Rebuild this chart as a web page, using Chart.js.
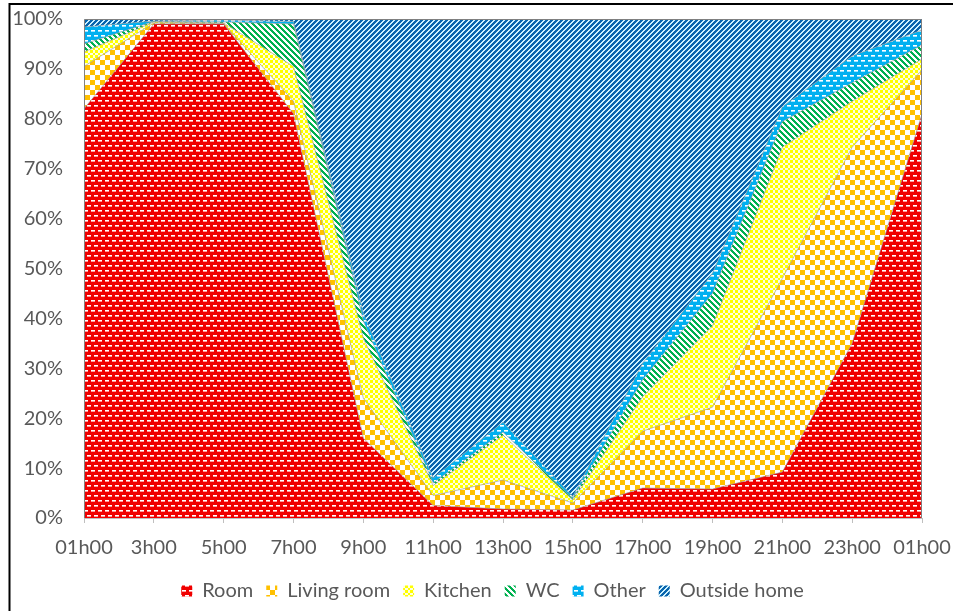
<!DOCTYPE html>
<html>
<head>
<meta charset="utf-8">
<script src="https://cdn.jsdelivr.net/npm/chart.js@4"></script>
<style>
  html, body { margin: 0; padding: 0; background: #fff; overflow: hidden; }
</style>
</head>
<body>
<canvas id="chart" width="953" height="611"></canvas>
<script>
// time of day
const hours = ['01h00', '3h00', '5h00', '7h00', '9h00', '11h00', '13h00', '15h00', '17h00', '19h00', '21h00', '23h00', '01h00'];
// share of people per place (%)
const room       = [82, 99, 99, 81, 16, 2.5, 1.8, 1.6, 6, 5.8, 9.2, 35, 81];
const livingRoom = [8.5, 0.2, 0.1, 2.5, 8, 2, 5.8, 1.4, 11.4, 16.4, 38.8, 39.3, 8.8];
const kitchen    = [2.9, 0.2, 0.1, 7, 12, 2, 9, 0.6, 6.9, 16.3, 26.3, 9.2, 2.2];
const wc         = [1.6, 0.1, 0.2, 8.5, 3.5, 0.5, 0.6, 0.3, 3.4, 6.5, 5.1, 3.7, 2.8];
const other      = [3.4, 0.1, 0.4, 0.5, 1.5, 1, 2, 0.4, 3.3, 4, 3, 5.4, 3];
const outside    = [1.6, 0.4, 0.2, 0.5, 59, 92, 80.8, 95.7, 69, 51, 17.6, 7.4, 2.2];

const canvas = document.getElementById('chart');
const ctx = canvas.getContext('2d');

// small bitmap fill patterns, like the Excel pattern fills
function pattern(w, h, bg, paint) {
    const c = document.createElement('canvas');
    c.width = w; c.height = h;
    const g = c.getContext('2d');
    g.fillStyle = bg;
    g.fillRect(0, 0, w, h);
    for (let y = 0; y < h; y++)
        for (let x = 0; x < w; x++) {
            const col = paint(x, y);
            if (col) { g.fillStyle = col; g.fillRect(x, y, 1, 1); }
        }
    return ctx.createPattern(c, 'repeat');
}

// white dashes, two offset rows per tile
const dashes = soft => (x, y) => {
    const a = x % 7 < 4, b = (x + 4) % 7 < 4;
    if ((y === 0 && a) || (y === 5 && b)) return '#FFFFFF';
    if ((y === 1 && a) || (y === 6 && b)) return soft;
    return null;
};
const kCell = v => (v % 5 < 3 ? 0 : 1);

const fills = {
    room: pattern(14, 10, '#F00000', dashes('#FF9A9A')),
    living: pattern(10, 10, '#FFC000', (x, y) => ((x < 5) !== (y < 5) ? '#FFFFFF' : null)),
    kitchen: pattern(10, 10, '#FFFFE0', (x, y) => ((kCell(x) + kCell(y)) % 2 === 0 ? '#FFFF00' : null)),
    wc: pattern(6, 6, '#FFFFFF', (x, y) => ((x - y + 60) % 6 < 3 ? '#00B050' : null)),
    other: pattern(14, 10, '#00B0F0', dashes('#9CE3FF')),
    outside: pattern(5, 5, '#CCF2FF', (x, y) => ((x + y) % 5 < 3 ? '#0865AE' : null))
};

function area(label, data, fill, first) {
    return {
        label: label,
        data: data,
        backgroundColor: fill,
        borderColor: 'rgba(150,150,150,0.8)',
        borderWidth: 0.75,
        pointRadius: 0,
        tension: 0,
        fill: first ? 'origin' : '-1'
    };
}

const frame = {
    id: 'frame',
    afterLayout(chart) {
        // centre the legend under the plot like the original
        chart.legend.left = 63;
    },
    afterDatasetsDraw(chart) {
        const a = chart.chartArea;
        const c = chart.ctx;
        c.save();
        c.strokeStyle = '#808080';
        c.lineWidth = 1;
        c.beginPath();
        c.moveTo(a.left + 0.5, a.bottom);
        c.lineTo(a.left + 0.5, a.top + 0.5);
        c.lineTo(a.right - 0.5, a.top + 0.5);
        c.lineTo(a.right - 0.5, a.bottom);
        c.stroke();
        c.restore();
    },
    afterDraw(chart) {
        const c = chart.ctx;
        c.save();
        c.strokeStyle = '#000';
        c.lineWidth = 2;
        c.strokeRect(9.5, 4, 2000, 2000);
        c.restore();
    }
};

const font = { family: 'Lato', size: 20 };

new Chart(ctx, {
    type: 'line',
    data: {
        labels: hours,
        datasets: [
            area('Room', room, fills.room, true),
            area('Living room', livingRoom, fills.living),
            area('Kitchen', kitchen, fills.kitchen),
            area('WC', wc, fills.wc),
            area('Other', other, fills.other),
            area('Outside home', outside, fills.outside)
        ]
    },
    options: {
        responsive: false,
        animation: false,
        layout: { padding: { left: 12, right: 31, top: 19, bottom: 0 } },
        plugins: {
            legend: {
                position: 'bottom',
                labels: {
                    boxWidth: 11,
                    boxHeight: 11,
                    padding: 13,
                    color: '#595959',
                    font: font,
                    generateLabels(chart) {
                        const items = Chart.defaults.plugins.legend.labels.generateLabels(chart);
                        items.forEach(i => { i.lineWidth = 0; i.strokeStyle = 'rgba(0,0,0,0)'; });
                        return items;
                    }
                }
            },
            tooltip: { enabled: false }
        },
        scales: {
            x: {
                offset: false,
                grid: { drawOnChartArea: false, tickLength: 5, color: '#BFBFBF' },
                border: { color: '#BFBFBF' },
                ticks: { color: '#595959', font: font, padding: 13, maxRotation: 0, autoSkip: false },
                afterFit(s) { s.height = 50; s.paddingLeft = 0; s.paddingRight = 0; }
            },
            y: {
                stacked: true,
                min: 0,
                max: 100,
                grid: { color: '#D9D9D9', drawTicks: false },
                border: { display: false },
                ticks: { stepSize: 10, color: '#595959', font: font, padding: 21, callback: v => v + '%' },
                afterFit(s) { s.width = 72; s.paddingTop = 0; s.paddingBottom = 0; }
            }
        }
    },
    plugins: [frame]
});
</script>
</body>
</html>
